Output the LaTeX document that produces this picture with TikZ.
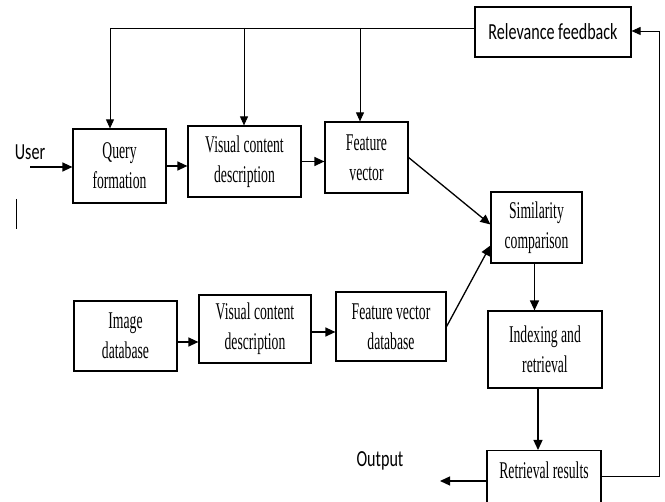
\documentclass[tikz,border=0pt]{standalone}
\usepackage{fontspec}
\usetikzlibrary{arrows.meta,calc}
\newfontfamily\boxfont{Liberation Serif}[FakeStretch=0.57]
\newfontfamily\labfont{Carlito}[FakeStretch=0.7]
\tikzset{
  box/.style={draw, line width=1.2pt, inner sep=0pt, align=center,
    font=\boxfont\fontsize{24}{30}\selectfont},
  lab/.style={inner sep=0pt, font=\labfont\fontsize{23}{26}\selectfont},
  arr/.style={line width=1.3pt, -{Triangle[length=10pt,width=9pt]}},
  fb/.style={line width=0.9pt, -{Triangle[length=9pt,width=8pt]}},
}
\begin{document}
\begin{tikzpicture}[x=1pt,y=-1pt]
\clip (0,0) rectangle (665,502);
\fill[white] (0,0) rectangle (665,502);
% boxes
\node[box, minimum width=156pt, minimum height=50pt, font=\labfont\fontsize{23}{26}\selectfont] (rel) at (553,32) {Relevance feedback};
\node[box, minimum width=93pt, minimum height=74pt] (query) at (119.5,166) {Query\\formation};
\node[box, minimum width=113pt, minimum height=71pt] (vis1) at (244.5,161.5) {Visual content\\description};
\node[box, minimum width=83pt, minimum height=71pt] (fv) at (366.5,157.5) {Feature\\vector};
\node[box, minimum width=91pt, minimum height=71pt] (sim) at (536.5,227.5) {Similarity\\comparison};
\node[box, minimum width=114pt, minimum height=77pt] (idx) at (545,349.5) {Indexing and\\retrieval};
\node[box, minimum width=114pt, anchor=north, text height=28pt, text depth=32pt] (ret) at (544,450) {Retrieval results};
\node[box, minimum width=103pt, minimum height=70pt] (imgdb) at (125.5,336) {Image\\database};
\node[box, minimum width=112pt, minimum height=68pt] (vis2) at (255,329) {Visual content\\description};
\node[box, minimum width=110pt, minimum height=69pt] (fvdb) at (391,326.5) {Feature vector\\database};
% labels
\node[lab] (user) at (30,152) {User};
\node[lab] (output) at (380,461) {Output};
% coordinates
\coordinate (uin) at (30,167);
\coordinate (outend) at (440,481);
\coordinate (fbl) at ($(rel.west)+(0,-4)$);
\coordinate (fb1) at (110,28);
\coordinate (fb2) at (244,28);
\coordinate (fb3) at (360,28);
\coordinate (bar1) at (16,199);
\coordinate (bar2) at (16,229);
\coordinate (s1) at ($(sim.south)+(-2,0)$);
\coordinate (i1) at ($(idx.south)+(-7,0)$);
\coordinate (r1) at ($(ret.east)+(0,-4)$);
\coordinate (simA) at ($(sim.west)+(0,-3)$);
\coordinate (simB) at ($(sim.west)+(0,18)$);
% connectors
\draw[arr] (uin) -- (uin -| query.west);
\draw[arr] (query.east) -- (query.east -| vis1.west);
\draw[arr] (vis1.east) -- (vis1.east -| fv.west);
\draw[arr] (fv.east) -- (simA);
\draw[arr] (imgdb.east |- 0,342) -- (vis2.west |- 0,342);
\draw[arr] (vis2.east |- 0,332) -- (fvdb.west |- 0,332);
\draw[arr] (fvdb.east) -- (simB);
\draw[arr] (s1) -- (s1 |- idx.north);
\draw[arr] (i1) -- (i1 |- ret.north);
\draw[arr] (ret.west |- outend) -- (outend);
\draw[fb] (r1) -- ++(58,0) |- ($(rel.east)+(0,-1)$);
\draw[line width=0.9pt] (fbl) -- (fb1);
\draw[fb] (fb1) -- (fb1 |- query.north);
\draw[fb] (fb2) -- (fb2 |- vis1.north);
\draw[fb] (fb3) -- (fb3 |- fv.north);
\draw[line width=0.9pt] (bar1) -- (bar2);
\end{tikzpicture}
\end{document}
